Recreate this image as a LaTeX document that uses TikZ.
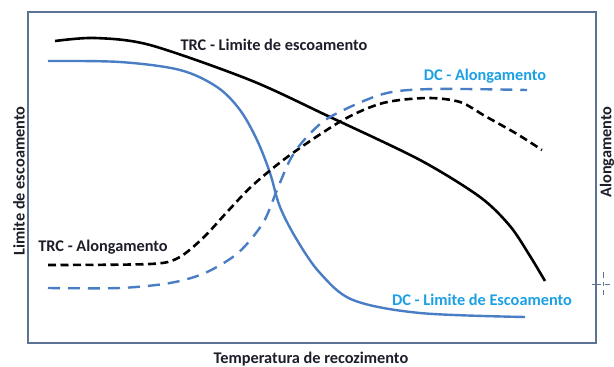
\documentclass[tikz,border=0pt]{standalone}
\usepackage{fontspec}
\setmainfont{Carlito}
\begin{document}
\begin{tikzpicture}[x=1pt,y=-1pt,
  lbl/.style={font=\bfseries\fontsize{16.3}{18}\selectfont, text=labdark, inner sep=0pt},
  lblblue/.style={font=\bfseries\fontsize{16.3}{18}\selectfont, text=labblue, inner sep=0pt},
  blk/.style={line width=2.6pt, draw=black},
  blu/.style={line width=2.4pt, draw=lineblue},
  blkdash/.style={line width=2.6pt, draw=black, dash pattern=on 8pt off 4.5pt},
  bludash/.style={line width=2.4pt, draw=lineblue, dash pattern=on 12pt off 8pt},
  frame/.style={line width=2pt, draw=framecol}]
\definecolor{labdark}{HTML}{1E1E2A}
\definecolor{labblue}{HTML}{1CA0E4}
\definecolor{lineblue}{HTML}{4A7EC4}
\definecolor{framecol}{HTML}{5B7394}
\useasboundingbox (0,0) rectangle (614,367);
\fill[white] (0,0) rectangle (614,367);
% frame
\draw[frame] (28,12) rectangle (596,343);
\draw[framecol, line width=1pt] (592,284) -- (599,284);
\draw[framecol, line width=1pt] (603,272) -- (603,278) (603,282) -- (603,286) (603,290) -- (603,295);
\draw[framecol, line width=1pt] (599,284) -- (601,284) (605,284) -- (610,284);
% curves
\draw[blk] plot[smooth, tension=0.5] coordinates {(55,41) (95,38) (150,45) (250,80) (330,117) (420,160) (480,197) (510,226) (530,256) (545,281)};
\draw[blu] plot[smooth, tension=0.55] coordinates {(48,61) (120,62) (180,70) (217,87) (240,110) (257,140) (270,173) (280,207) (297,240) (320,273) (353,300) (420,313) (525,317)};
\draw[blkdash] plot[smooth, tension=0.5] coordinates {(48,265) (150,264) (178,258) (203,238) (228,211) (253,185) (290,155) (343,120) (383,103) (427,98) (460,102) (485,116) (517,134) (542,150)};
\draw[bludash] plot[smooth, tension=0.5] coordinates {(48,288) (120,288) (170,283) (205,273) (238,253) (263,223) (277,190) (290,160) (305,139) (330,117) (383,94) (433,89) (527,90)};
% labels
\node[lbl] (trcle) at (274,45) {TRC - Limite de escoamento};
\node[lblblue] (dcal) at (485,76) {DC - Alongamento};
\node[lbl] (trcal) at (103,247) {TRC - Alongamento};
\node[lblblue] (dcle) at (482,300) {DC - Limite de Escoamento};
\node[lbl] (xlab) at (311,359) {Temperatura de recozimento};
\node[lbl, rotate=90] (ylab) at (19,181) {Limite de escoamento};
\node[lbl, rotate=90] (ylab2) at (607,152) {Alongamento};
\end{tikzpicture}
\end{document}
